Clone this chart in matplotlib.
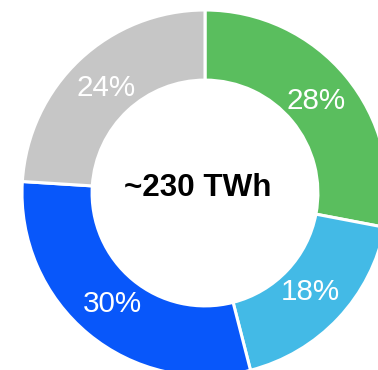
import matplotlib
matplotlib.use("Agg")
import matplotlib.pyplot as plt
import numpy as np

categories = ["Green", "Light blue", "Blue", "Gray"]
shares = [28, 18, 30, 24]
labels_pct = ["28%", "18%", "30%", "24%"]
colors = ["#5abe5e", "#43bae6", "#0857fa", "#c6c6c6"]
center_label = "~230 TWh"

plt.rcParams['font.family'] = ['Liberation Sans', 'DejaVu Sans']

W, H = 378, 370
fig = plt.figure(figsize=(W / 100, H / 100), dpi=100)
ax = fig.add_axes([0, 0, 1, 1])

cx, cy, R = 205, 193, 183
wedges, texts = ax.pie(
    shares, colors=colors, startangle=90, counterclock=False, radius=1.0,
    wedgeprops=dict(width=0.383, edgecolor="white", linewidth=2.2),
)
for w, lab in zip(wedges, labels_pct):
    ang = np.deg2rad((w.theta1 + w.theta2) / 2)
    r = 0.79
    ax.text(r * np.cos(ang), r * np.sin(ang), lab, ha="center", va="center",
            color="white", fontsize=21.3)

ax.text((198 - cx) / R, (cy - 188) / R, center_label, ha="center", va="center",
        fontsize=22.6, fontweight="bold", color="black")

ax.set_aspect("auto")
ax.set_xlim((0 - cx) / R, (W - cx) / R)
ax.set_ylim((cy - H) / R, (cy - 0) / R)
ax.axis("off")
fig.savefig("out.png", dpi=100)
